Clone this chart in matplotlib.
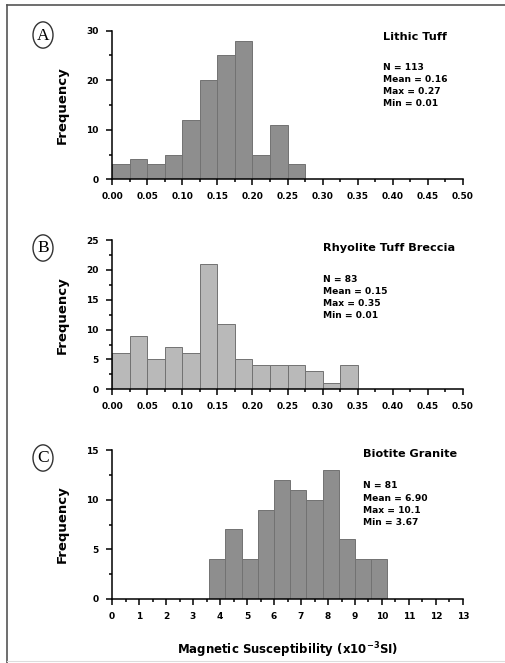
import numpy as np
import matplotlib
matplotlib.use("Agg")
import matplotlib.pyplot as plt
from matplotlib.ticker import MultipleLocator, FormatStrFormatter
from matplotlib.patches import Circle
from matplotlib.lines import Line2D

# panel A - Lithic Tuff (bin width 0.025, starting at 0)
a_counts = [3, 4, 3, 5, 12, 20, 25, 28, 5, 11, 3]
a_start, a_width = 0.0, 0.025
a_stats = ["N = 113", "Mean = 0.16", "Max = 0.27", "Min = 0.01"]

# panel B - Rhyolite Tuff Breccia
b_counts = [6, 9, 5, 7, 6, 21, 11, 5, 4, 4, 4, 3, 1, 4]
b_start, b_width = 0.0, 0.025
b_stats = ["N = 83", "Mean = 0.15", "Max = 0.35", "Min = 0.01"]

# panel C - Biotite Granite
c_counts = [4, 7, 4, 9, 12, 11, 10, 13, 6, 4, 4]
c_start, c_width = 3.6, 0.6
c_stats = ["N = 81", "Mean = 6.90", "Max = 10.1", "Min = 3.67"]

W, H = 505, 663
fig = plt.figure(figsize=(W / 100, H / 100), dpi=100)
plt.rcParams['font.family'] = ['DejaVu Sans']


def px_axes(left, top, right, bottom):
    return fig.add_axes([left / W, 1 - bottom / H, (right - left) / W, (bottom - top) / H])


def style(ax, xmax, xmaj, xmin, ymax, ymaj, ymin, fmt):
    ax.set_xlim(0, xmax)
    ax.set_ylim(0, ymax)
    ax.spines['top'].set_visible(False)
    ax.spines['right'].set_visible(False)
    for s in ('left', 'bottom'):
        ax.spines[s].set_linewidth(1.1)
    ax.xaxis.set_major_locator(MultipleLocator(xmaj))
    ax.xaxis.set_minor_locator(MultipleLocator(xmin))
    ax.yaxis.set_major_locator(MultipleLocator(ymaj))
    ax.yaxis.set_minor_locator(MultipleLocator(ymin))
    ax.xaxis.set_major_formatter(FormatStrFormatter(fmt))
    ax.tick_params(which='major', length=4.5, width=1.1, direction='out', pad=5)
    ax.tick_params(which='minor', length=2.5, width=1.1, direction='out')
    for lab in ax.get_xticklabels() + ax.get_yticklabels():
        lab.set_fontweight('bold')
        lab.set_fontsize(6.5)
    ax.set_ylabel("Frequency", fontsize=9.5, fontweight='bold', labelpad=13)
    ax.patch.set_alpha(0)


def panel(ax, counts, start, width, color):
    lefts = [start + i * width for i in range(len(counts))]
    ax.bar(lefts, counts, width=width, align='edge', color=color,
           edgecolor='#727272', linewidth=0.7, zorder=2)


def annotate(letter, cx, cy, title, tx, ty, stats, sy):
    fig.patches.append(Circle((cx / W, 1 - cy / H), 10 / W, transform=fig.transFigure,
                              fill=False, edgecolor='#333333', linewidth=1.0))
    fig.text(cx / W, 1 - (cy + 0.5) / H, letter, ha='center', va='center',
             fontsize=12.5, family='Liberation Serif')
    fig.text(tx / W, 1 - ty / H, title, ha='left', va='center', fontsize=8.1, fontweight='bold')
    for i, s in enumerate(stats):
        fig.text(tx / W, 1 - (sy + i * 12.3) / H, s, ha='left', va='center',
                 fontsize=6.6, fontweight='bold')


axA = px_axes(112, 30.7, 463, 179.3)
panel(axA, a_counts, a_start, a_width, '#8e8e8e')
style(axA, 0.5, 0.05, 0.025, 30, 10, 5, '%.2f')

axB = px_axes(112, 240, 463, 389.3)
panel(axB, b_counts, b_start, b_width, '#b9b9b9')
style(axB, 0.5, 0.05, 0.025, 25, 5, 2.5, '%.2f')

axC = px_axes(112, 450, 463, 599)
panel(axC, c_counts, c_start, c_width, '#8e8e8e')
style(axC, 13, 1, 0.5, 15, 5, 2.5, '%d')
axC.set_xlabel("Magnetic Susceptibility (x10$^{\\mathbf{-3}}$SI)", fontsize=8.5,
               fontweight='bold', labelpad=14)

annotate("A", 43, 35, "Lithic Tuff", 383, 37, a_stats, 67)
annotate("B", 43, 248, "Rhyolite Tuff Breccia", 323, 248, b_stats, 279)
annotate("C", 43, 458, "Biotite Granite", 363, 454, c_stats, 486)

# page frame
fig.lines.append(Line2D([7 / W, 1], [1 - 5 / H, 1 - 5 / H], transform=fig.transFigure,
                        color='#555555', linewidth=1.2))
fig.lines.append(Line2D([7 / W, 7 / W], [1 - 5 / H, 0], transform=fig.transFigure,
                        color='#555555', linewidth=1.2))
fig.lines.append(Line2D([7 / W, 1], [1 - 661 / H, 1 - 661 / H], transform=fig.transFigure,
                        color='#dddddd', linewidth=0.8))

fig.savefig("out.png", dpi=100)
